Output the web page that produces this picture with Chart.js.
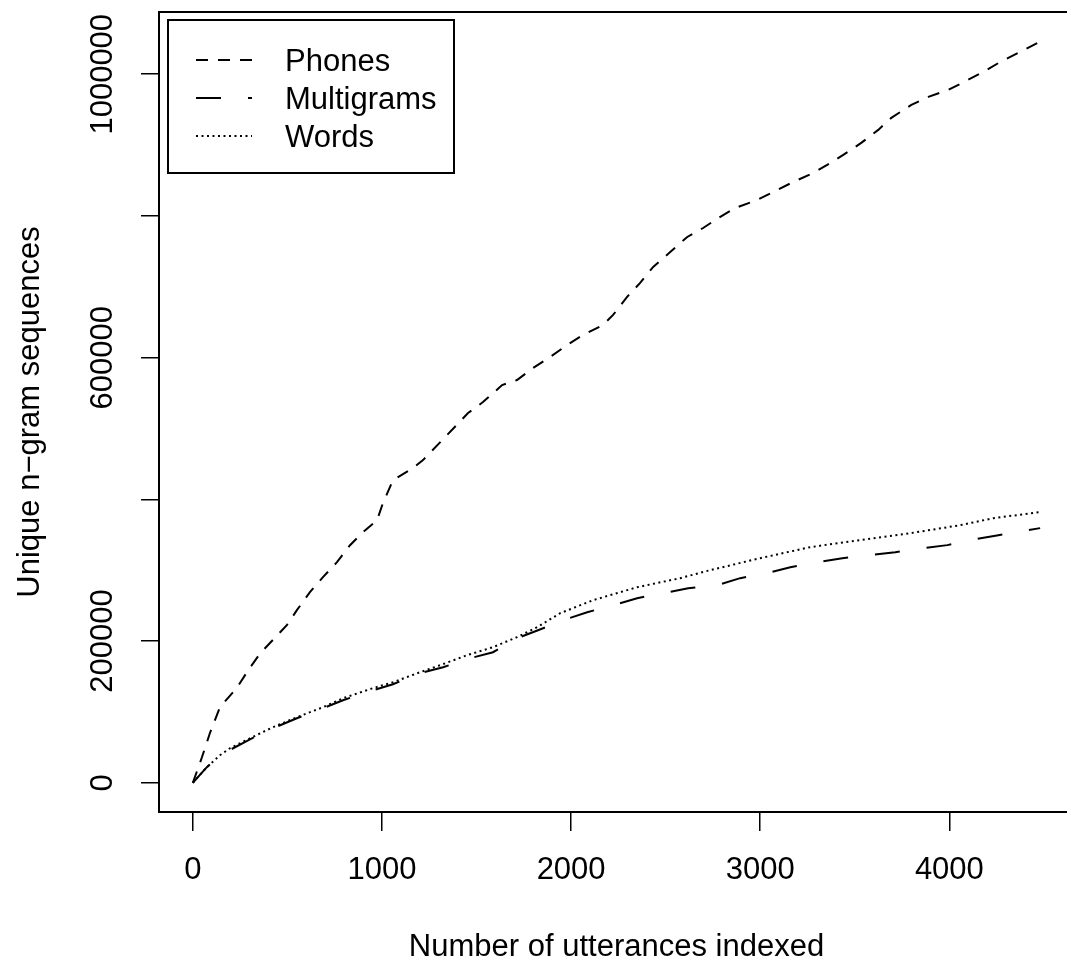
<!DOCTYPE html>
<html>
<head>
<meta charset="utf-8">
<title>Unique n-gram sequences</title>
<script src="https://cdn.jsdelivr.net/npm/chart.js@4/dist/chart.umd.min.js"></script>
<style>
  html, body { margin: 0; padding: 0; background: #fff; overflow: hidden; }
  canvas { display: block; }
</style>
</head>
<body>
<canvas id="chart" width="1080" height="963"></canvas>
<script>
// Values (x = utterances indexed, y = unique n-gram sequences)
const phonesUtt = [0, 48, 90, 143, 233, 291, 354, 444, 497, 550, 619, 688, 762, 831, 899, 974, 1005, 1042, 1058, 1164,
    1217, 1344, 1455, 1534, 1635, 1714, 1799, 1889, 1979, 2063, 2169, 2222, 2296, 2365, 2434, 2524, 2614, 2698, 2778, 2868,
    2984, 3069, 3175, 3280, 3354, 3439, 3534, 3624, 3693, 3799, 3889, 3995, 4079, 4180, 4270, 4376, 4480];
const phonesSeq = [0, 36000, 69900, 106600, 134100, 158100, 182100, 207500, 222400, 243600, 269000, 290200, 311300, 335300, 353700, 370700, 394700, 417300, 427200, 444100,
    455400, 490700, 521800, 537300, 561300, 568400, 585400, 600900, 617900, 632000, 646200, 660300, 685700, 705500, 728100, 749100, 770300, 783000, 797100, 811300,
    822600, 833900, 848000, 860700, 872000, 886200, 903100, 921500, 938400, 956800, 968100, 978000, 989300, 1003400, 1017500, 1031700, 1046000];

const multiUtt = [0, 74, 143, 302, 423, 550, 688, 794, 952, 1058, 1201, 1323, 1466, 1587, 1714, 1825, 1958, 2085,
    2222, 2349, 2487, 2619, 2772, 2894, 3037, 3159, 3307, 3434, 3582, 3714, 3862, 3989, 4138, 4259, 4413, 4480];
const multiSeq = [0, 22000, 38800, 61400, 76900, 91100, 105200, 116500, 130600, 139100, 154600, 163100, 175800, 184300, 204000, 215300, 229500, 240700,
    250600, 260500, 267600, 274600, 278900, 288800, 295800, 304300, 311400, 317000, 321300, 325500, 331100, 335400, 343800, 349500, 356500, 359400];

const wordsUtt = [0, 74, 143, 196, 302, 423, 550, 688, 794, 952, 1058, 1201, 1307, 1450, 1587, 1714, 1820, 1942,
    2116, 2349, 2577, 2735, 3000, 3265, 3529, 3794, 4058, 4233, 4480];
const wordsSeq = [0, 22000, 38800, 48700, 62800, 78400, 92500, 106600, 119300, 133500, 141900, 156000, 165900, 180100, 191400, 205500, 219600, 239300,
    257700, 276000, 288800, 300100, 317000, 332600, 342500, 352300, 363600, 373500, 382000];

const seriesNames = ['Phones', 'Multigrams', 'Words'];

const xTickValues = [0, 1000, 2000, 3000, 4000];
const yTickValues = [0, 200000, 400000, 600000, 800000, 1000000];
// R drops the labels that would overlap
const yTickLabels = ['0', '200000', '', '600000', '', '1000000'];

const FONT = '"Liberation Sans", Arial, Helvetica, sans-serif';
const FONT_SIZE = 31;

function toPoints(xs, ys) {
    return xs.map((x, i) => ({ x: x, y: ys[i] }));
}

// Box round the plot region
const frameBox = {
    id: 'frameBox',
    afterDraw(chart) {
        const { ctx, chartArea: a } = chart;
        ctx.save();
        ctx.strokeStyle = '#000';
        ctx.lineWidth = 2;
        ctx.strokeRect(a.left, a.top, a.right - a.left, a.bottom - a.top);
        ctx.restore();
    }
};

// Vertical y tick labels, as R draws them
const yTickText = {
    id: 'yTickText',
    afterDraw(chart) {
        const ctx = chart.ctx;
        const scale = chart.scales.y;
        ctx.save();
        ctx.font = FONT_SIZE + 'px ' + FONT;
        ctx.fillStyle = '#000';
        ctx.textAlign = 'center';
        ctx.textBaseline = 'middle';
        yTickValues.forEach((v, i) => {
            if (!yTickLabels[i]) return;
            ctx.save();
            ctx.translate(103, scale.getPixelForValue(v));
            ctx.rotate(-Math.PI / 2);
            ctx.fillText(yTickLabels[i], 0, 0);
            ctx.restore();
        });
        ctx.restore();
    }
};

// Boxed legend in the top-left corner
const boxLegend = {
    id: 'boxLegend',
    afterDraw(chart) {
        const ctx = chart.ctx;
        ctx.save();
        ctx.strokeStyle = '#000';
        ctx.fillStyle = '#000';
        ctx.lineWidth = 2;
        ctx.strokeRect(168, 20, 286, 153);
        ctx.font = FONT_SIZE + 'px ' + FONT;
        ctx.textAlign = 'left';
        ctx.textBaseline = 'middle';
        chart.data.datasets.forEach((ds, i) => {
            const cy = 60 + i * 38;
            ctx.setLineDash(ds.borderDash || []);
            ctx.lineWidth = ds.borderWidth;
            ctx.beginPath();
            ctx.moveTo(196, cy);
            ctx.lineTo(252, cy);
            ctx.stroke();
            ctx.setLineDash([]);
            ctx.fillText(ds.label, 285, cy + 2);
        });
        ctx.restore();
    }
};

function lineSet(label, data, dash) {
    return {
        label: label,
        data: data,
        borderColor: '#000',
        backgroundColor: '#000',
        borderWidth: 2,
        borderDash: dash,
        pointRadius: 0,
        tension: 0,
        fill: false
    };
}

new Chart(document.getElementById('chart'), {
    type: 'line',
    data: {
        datasets: [
            lineSet(seriesNames[0], toPoints(phonesUtt, phonesSeq), [12, 10]),
            lineSet(seriesNames[1], toPoints(multiUtt, multiSeq), [25, 27]),
            lineSet(seriesNames[2], toPoints(wordsUtt, wordsSeq), [2, 3.5])
        ]
    },
    options: {
        responsive: false,
        animation: false,
        devicePixelRatio: 1,
        layout: { padding: { top: 12, right: 6, bottom: 0, left: 0 } },
        plugins: {
            legend: { display: false },
            tooltip: { enabled: false }
        },
        scales: {
            x: {
                type: 'linear',
                min: -179,
                max: 4659,
                afterBuildTicks(s) { s.ticks = xTickValues.map(v => ({ value: v })); },
                afterFit(s) {
                    s.height = 151;
                    s.paddingLeft = 0; s.paddingRight = 0;
                },
                border: { display: false },
                grid: { drawOnChartArea: false, drawTicks: true, tickLength: 19, color: '#000', lineWidth: 1.5 },
                ticks: {
                    color: '#000',
                    padding: 21,
                    maxRotation: 0,
                    autoSkip: false,
                    font: { family: FONT, size: FONT_SIZE },
                    callback: v => String(v)
                },
                title: {
                    display: true,
                    text: 'Number of utterances indexed',
                    color: '#000',
                    font: { family: FONT, size: FONT_SIZE, lineHeight: 1 },
                    padding: { top: 0, bottom: 0 }
                }
            },
            y: {
                type: 'linear',
                min: -41240,
                max: 1087850,
                afterBuildTicks(s) { s.ticks = yTickValues.map(v => ({ value: v })); },
                afterFit(s) {
                    s.width = 159;
                    s.paddingTop = 0; s.paddingBottom = 0;
                },
                border: { display: false },
                grid: { drawOnChartArea: false, drawTicks: true, tickLength: 18, color: '#000', lineWidth: 1.5 },
                ticks: { display: false },
                title: {
                    display: true,
                    text: 'Unique n\u2212gram sequences',
                    color: '#000',
                    font: { family: FONT, size: FONT_SIZE, lineHeight: 1 },
                    padding: { top: 15, bottom: 0 }
                }
            }
        }
    },
    plugins: [frameBox, yTickText, boxLegend]
});
</script>
</body>
</html>
